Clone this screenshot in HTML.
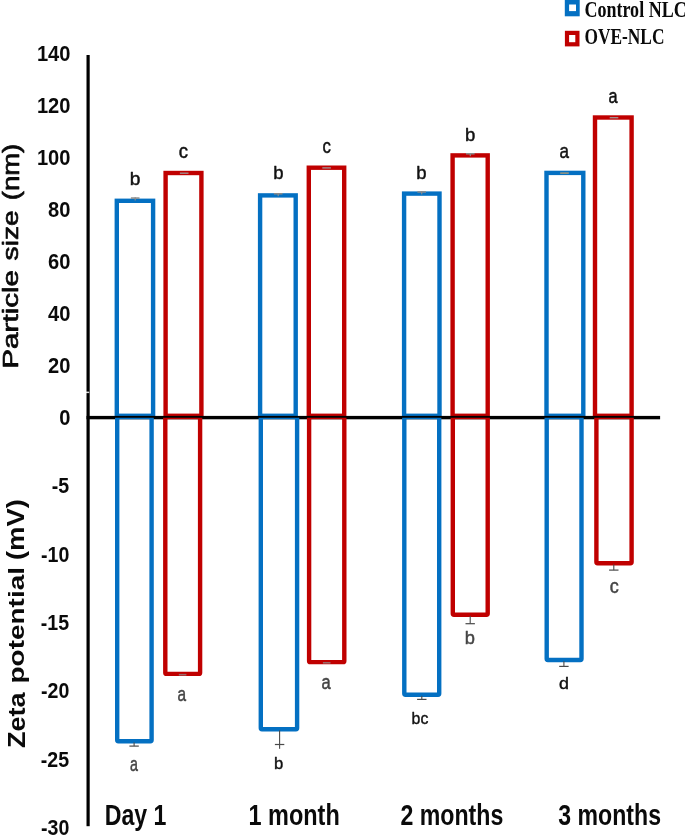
<!DOCTYPE html>
<html><head><meta charset="utf-8"><title>Particle size and zeta potential</title>
<style>html,body{margin:0;padding:0;background:#fff}body{width:685px;height:835px;overflow:hidden}svg{display:block}</style>
</head><body>
<svg width="685" height="835" viewBox="0 0 685 835">
<rect width="685" height="835" fill="#fff"/>
<rect x="116.80" y="200.80" width="36.30" height="215.00" fill="none" stroke="#0470c2" stroke-width="4.4" rx="0"/>
<rect x="165.60" y="173.00" width="35.80" height="242.80" fill="none" stroke="#c00000" stroke-width="4.4" rx="0"/>
<rect x="260.10" y="195.40" width="35.60" height="220.40" fill="none" stroke="#0470c2" stroke-width="4.4" rx="0"/>
<rect x="308.80" y="167.70" width="35.40" height="248.10" fill="none" stroke="#c00000" stroke-width="4.4" rx="0"/>
<rect x="404.10" y="193.60" width="35.40" height="222.20" fill="none" stroke="#0470c2" stroke-width="4.4" rx="0"/>
<rect x="452.60" y="155.40" width="35.10" height="260.40" fill="none" stroke="#c00000" stroke-width="4.4" rx="0"/>
<rect x="546.50" y="172.90" width="36.80" height="242.90" fill="none" stroke="#0470c2" stroke-width="4.4" rx="0"/>
<rect x="595.00" y="117.50" width="36.60" height="298.30" fill="none" stroke="#c00000" stroke-width="4.4" rx="0"/>
<rect x="86.5" y="55" width="3.2" height="771.2" fill="#000"/>
<rect x="86.5" y="415.90" width="573.6" height="3.4" fill="#000"/>
<rect x="86" y="391.6" width="3.2" height="1.5" fill="#fff" opacity="0.85"/>
<clipPath id="cb"><rect x="0" y="417.70" width="685" height="420"/></clipPath><g clip-path="url(#cb)">
<rect x="117.20" y="417.00" width="34.40" height="324.30" fill="none" stroke="#0470c2" stroke-width="4.4" rx="1.2"/>
<rect x="165.30" y="417.00" width="34.80" height="256.90" fill="none" stroke="#c00000" stroke-width="4.4" rx="1.2"/>
<rect x="260.80" y="417.00" width="36.30" height="312.20" fill="none" stroke="#0470c2" stroke-width="4.4" rx="1.2"/>
<rect x="309.10" y="417.00" width="35.20" height="245.10" fill="none" stroke="#c00000" stroke-width="4.4" rx="1.2"/>
<rect x="404.30" y="417.00" width="34.90" height="277.70" fill="none" stroke="#0470c2" stroke-width="4.4" rx="1.2"/>
<rect x="452.80" y="417.00" width="34.90" height="197.70" fill="none" stroke="#c00000" stroke-width="4.4" rx="1.2"/>
<rect x="546.70" y="417.00" width="34.80" height="243.00" fill="none" stroke="#0470c2" stroke-width="4.4" rx="1.2"/>
<rect x="596.40" y="417.00" width="35.20" height="146.20" fill="none" stroke="#c00000" stroke-width="4.4" rx="1.2"/>
</g>
<rect x="130.9" y="197.3" width="8.6" height="1.5" fill="#8a8a8a"/>
<rect x="134.6" y="197.3" width="1.2" height="3.2" fill="#8a8a8a"/>
<rect x="179.9" y="172.5" width="8.6" height="1.4" fill="#a08c8c"/>
<rect x="273.9" y="193.0" width="8.6" height="1.5" fill="#8a8a8a"/>
<rect x="277.6" y="193.0" width="1.2" height="3.2" fill="#8a8a8a"/>
<rect x="322.3" y="167.2" width="8.6" height="1.4" fill="#a08c8c"/>
<rect x="417.4" y="191.2" width="8.6" height="1.5" fill="#8a8a8a"/>
<rect x="421.1" y="191.2" width="1.2" height="3.2" fill="#8a8a8a"/>
<rect x="466.0" y="153.0" width="8.6" height="1.5" fill="#8a8a8a"/>
<rect x="469.7" y="153.0" width="1.2" height="3.2" fill="#8a8a8a"/>
<rect x="560.2" y="172.4" width="8.6" height="1.4" fill="#a89a78"/>
<rect x="609.7" y="117.0" width="8.6" height="1.4" fill="#a08c8c"/>
<rect x="133.55" y="742.50" width="1.1" height="3.60" fill="#4a4a4a"/>
<rect x="129.40" y="745.50" width="9.4" height="1.2" fill="#4a4a4a"/>
<rect x="279.05" y="730.40" width="1.1" height="18.40" fill="#4a4a4a"/>
<rect x="274.90" y="743.90" width="9.4" height="1.2" fill="#4a4a4a"/>
<rect x="421.25" y="695.90" width="1.1" height="3.50" fill="#4a4a4a"/>
<rect x="417.10" y="698.80" width="9.4" height="1.2" fill="#4a4a4a"/>
<rect x="563.35" y="661.20" width="1.1" height="5.20" fill="#4a4a4a"/>
<rect x="559.20" y="665.80" width="9.4" height="1.2" fill="#4a4a4a"/>
<rect x="469.65" y="615.90" width="1.1" height="7.80" fill="#4a4a4a"/>
<rect x="465.50" y="623.10" width="9.4" height="1.2" fill="#4a4a4a"/>
<rect x="613.25" y="564.40" width="1.1" height="5.70" fill="#4a4a4a"/>
<rect x="609.10" y="569.50" width="9.4" height="1.2" fill="#4a4a4a"/>
<rect x="178.8" y="673.9" width="7.6" height="1.6" fill="#9a6a6a"/>
<rect x="322.9" y="662.0" width="7.6" height="1.6" fill="#9a6a6a"/>
<text transform="matrix(1.0050,0,0,1.1268,36.94,61.37)" font-family='"Liberation Sans", Arial, sans-serif' font-size="20" font-weight="bold" fill="#0a0a0a">140</text>
<text transform="matrix(1.0050,0,0,1.1268,36.94,113.34)" font-family='"Liberation Sans", Arial, sans-serif' font-size="20" font-weight="bold" fill="#0a0a0a">120</text>
<text transform="matrix(1.0050,0,0,1.1268,36.94,165.31)" font-family='"Liberation Sans", Arial, sans-serif' font-size="20" font-weight="bold" fill="#0a0a0a">100</text>
<text transform="matrix(1.0050,0,0,1.1268,48.09,217.28)" font-family='"Liberation Sans", Arial, sans-serif' font-size="20" font-weight="bold" fill="#0a0a0a">80</text>
<text transform="matrix(1.0050,0,0,1.1268,48.09,269.25)" font-family='"Liberation Sans", Arial, sans-serif' font-size="20" font-weight="bold" fill="#0a0a0a">60</text>
<text transform="matrix(1.0050,0,0,1.1268,48.09,321.22)" font-family='"Liberation Sans", Arial, sans-serif' font-size="20" font-weight="bold" fill="#0a0a0a">40</text>
<text transform="matrix(1.0050,0,0,1.1268,48.09,373.19)" font-family='"Liberation Sans", Arial, sans-serif' font-size="20" font-weight="bold" fill="#0a0a0a">20</text>
<text transform="matrix(1.0050,0,0,1.1268,59.25,425.16)" font-family='"Liberation Sans", Arial, sans-serif' font-size="20" font-weight="bold" fill="#0a0a0a">0</text>
<text transform="matrix(0.9800,0,0,1.1429,51.65,493.27)" font-family='"Liberation Sans", Arial, sans-serif' font-size="20" font-weight="bold" fill="#0a0a0a">-5</text>
<text transform="matrix(0.9800,0,0,1.1268,41.06,561.67)" font-family='"Liberation Sans", Arial, sans-serif' font-size="20" font-weight="bold" fill="#0a0a0a">-10</text>
<text transform="matrix(0.9800,0,0,1.1429,40.77,630.07)" font-family='"Liberation Sans", Arial, sans-serif' font-size="20" font-weight="bold" fill="#0a0a0a">-15</text>
<text transform="matrix(0.9800,0,0,1.1268,41.06,698.47)" font-family='"Liberation Sans", Arial, sans-serif' font-size="20" font-weight="bold" fill="#0a0a0a">-20</text>
<text transform="matrix(0.9800,0,0,1.1268,40.77,766.87)" font-family='"Liberation Sans", Arial, sans-serif' font-size="20" font-weight="bold" fill="#0a0a0a">-25</text>
<text transform="matrix(0.9800,0,0,1.1268,41.06,835.27)" font-family='"Liberation Sans", Arial, sans-serif' font-size="20" font-weight="bold" fill="#0a0a0a">-30</text>
<text transform="matrix(1.1573,0,0,1.4535,104.70,825.00)" font-family='"Liberation Sans", Arial, sans-serif' font-size="20" font-weight="bold" fill="#0a0a0a">Day 1</text>
<text transform="matrix(1.1737,0,0,1.4535,248.49,825.00)" font-family='"Liberation Sans", Arial, sans-serif' font-size="20" font-weight="bold" fill="#0a0a0a">1 month</text>
<text transform="matrix(1.1579,0,0,1.4535,400.39,825.00)" font-family='"Liberation Sans", Arial, sans-serif' font-size="20" font-weight="bold" fill="#0a0a0a">2 months</text>
<text transform="matrix(1.1553,0,0,1.4535,558.32,825.00)" font-family='"Liberation Sans", Arial, sans-serif' font-size="20" font-weight="bold" fill="#0a0a0a">3 months</text>
<text transform="matrix(0.9579,0,0,0.9605,129.74,185.42)" font-family='"Liberation Sans", Arial, sans-serif' font-size="20" font-weight="normal" fill="#111" stroke="#111" stroke-width="0.5" stroke-linejoin="round">b</text>
<text transform="matrix(0.9239,0,0,1.0261,178.74,157.69)" font-family='"Liberation Sans", Arial, sans-serif' font-size="20" font-weight="normal" fill="#111" stroke="#111" stroke-width="0.5" stroke-linejoin="round">c</text>
<text transform="matrix(0.9263,0,0,0.9539,273.18,178.52)" font-family='"Liberation Sans", Arial, sans-serif' font-size="20" font-weight="normal" fill="#111" stroke="#111" stroke-width="0.5" stroke-linejoin="round">b</text>
<text transform="matrix(0.8370,0,0,1.0174,322.49,152.69)" font-family='"Liberation Sans", Arial, sans-serif' font-size="20" font-weight="normal" fill="#111" stroke="#111" stroke-width="0.5" stroke-linejoin="round">c</text>
<text transform="matrix(0.9263,0,0,0.9539,416.28,178.72)" font-family='"Liberation Sans", Arial, sans-serif' font-size="20" font-weight="normal" fill="#111" stroke="#111" stroke-width="0.5" stroke-linejoin="round">b</text>
<text transform="matrix(0.9263,0,0,0.9408,464.88,140.93)" font-family='"Liberation Sans", Arial, sans-serif' font-size="20" font-weight="normal" fill="#111" stroke="#111" stroke-width="0.5" stroke-linejoin="round">b</text>
<text transform="matrix(0.8519,0,0,1.0522,559.58,157.68)" font-family='"Liberation Sans", Arial, sans-serif' font-size="20" font-weight="normal" fill="#111" stroke="#111" stroke-width="0.5" stroke-linejoin="round">a</text>
<text transform="matrix(0.8148,0,0,1.0261,608.50,102.59)" font-family='"Liberation Sans", Arial, sans-serif' font-size="20" font-weight="normal" fill="#111" stroke="#111" stroke-width="0.5" stroke-linejoin="round">a</text>
<text transform="matrix(0.7130,0,0,0.9826,130.06,770.91)" font-family='"Liberation Sans", Arial, sans-serif' font-size="20" font-weight="normal" fill="#454545" stroke="#454545" stroke-width="0.5" stroke-linejoin="round">a</text>
<text transform="matrix(0.7685,0,0,1.0435,177.53,701.48)" font-family='"Liberation Sans", Arial, sans-serif' font-size="20" font-weight="normal" fill="#454545" stroke="#454545" stroke-width="0.5" stroke-linejoin="round">a</text>
<text transform="matrix(0.8316,0,0,0.8224,274.08,768.88)" font-family='"Liberation Sans", Arial, sans-serif' font-size="20" font-weight="normal" fill="#111" stroke="#111" stroke-width="0.5" stroke-linejoin="round">b</text>
<text transform="matrix(0.8241,0,0,1.0261,321.60,689.39)" font-family='"Liberation Sans", Arial, sans-serif' font-size="20" font-weight="normal" fill="#454545" stroke="#454545" stroke-width="0.5" stroke-linejoin="round">a</text>
<text transform="matrix(0.7929,0,0,0.8224,411.62,723.88)" font-family='"Liberation Sans", Arial, sans-serif' font-size="20" font-weight="normal" fill="#111" stroke="#111" stroke-width="0.5" stroke-linejoin="round">bc</text>
<text transform="matrix(0.9158,0,0,0.9276,464.79,644.43)" font-family='"Liberation Sans", Arial, sans-serif' font-size="20" font-weight="normal" fill="#454545" stroke="#454545" stroke-width="0.5" stroke-linejoin="round">b</text>
<text transform="matrix(0.8947,0,0,0.8224,559.06,689.08)" font-family='"Liberation Sans", Arial, sans-serif' font-size="20" font-weight="normal" fill="#111" stroke="#111" stroke-width="0.5" stroke-linejoin="round">d</text>
<text transform="matrix(0.9022,0,0,1.0174,609.75,592.79)" font-family='"Liberation Sans", Arial, sans-serif' font-size="20" font-weight="normal" fill="#454545" stroke="#454545" stroke-width="0.5" stroke-linejoin="round">c</text>
<text transform="matrix(0,-1.4830,1.1111,0,18.04,368.73)" font-family='"Liberation Sans", Arial, sans-serif' font-size="20" font-weight="normal" fill="#0a0a0a" stroke="#0a0a0a" stroke-width="0.6" stroke-linejoin="round">Particle</text>
<text transform="matrix(0,-1.4075,1.1242,0,18.24,260.42)" font-family='"Liberation Sans", Arial, sans-serif' font-size="20" font-weight="normal" fill="#0a0a0a" stroke="#0a0a0a" stroke-width="0.6" stroke-linejoin="round">size</text>
<text transform="matrix(0,-1.3750,1.1503,0,18.62,200.24)" font-family='"Liberation Sans", Arial, sans-serif' font-size="20" font-weight="normal" fill="#0a0a0a" stroke="#0a0a0a" stroke-width="0.6" stroke-linejoin="round">(nm)</text>
<text transform="matrix(0,-1.3514,1.2214,0,24.66,748.01)" font-family='"Liberation Sans", Arial, sans-serif' font-size="20" font-weight="bold" fill="#0a0a0a">Zeta</text>
<text transform="matrix(0,-1.3990,1.1497,0,24.47,683.52)" font-family='"Liberation Sans", Arial, sans-serif' font-size="20" font-weight="bold" fill="#0a0a0a">potential</text>
<text transform="matrix(0,-1.3718,1.1711,0,24.38,560.07)" font-family='"Liberation Sans", Arial, sans-serif' font-size="20" font-weight="bold" fill="#0a0a0a">(mV)</text>
<rect x="564.8" y="0" width="14.9" height="16.3" fill="#0470c2"/><rect x="569.1" y="4.5" width="6.9" height="6.6" fill="#fff"/>
<rect x="567" y="32.9" width="10.4" height="11.4" fill="#fff" stroke="#c00000" stroke-width="4.2"/>
<text transform="matrix(0.9018,0,0,1.1631,584.40,16.77)" font-family='"Liberation Serif", "Times New Roman", serif' font-size="20" font-weight="bold" fill="#0a0a0a">Control NLC</text>
<text transform="matrix(0.8685,0,0,1.1481,584.43,44.36)" font-family='"Liberation Serif", "Times New Roman", serif' font-size="20" font-weight="bold" fill="#0a0a0a">OVE-NLC</text>
</svg>
</body></html>
